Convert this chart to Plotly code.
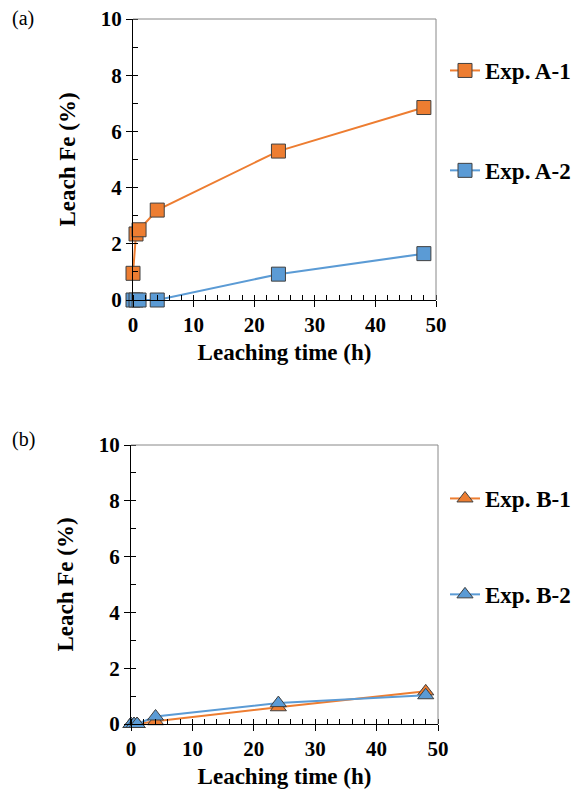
import plotly.graph_objects as go

time_h = [0, 0.5, 1, 4, 24, 48]
exp_a1 = [0.95, 2.35, 2.5, 3.2, 5.3, 6.85]
exp_a2 = [0.0, 0.0, 0.0, 0.0, 0.92, 1.65]
exp_b1 = [0.0, 0.0, 0.0, 0.1, 0.6, 1.17]
exp_b2 = [0.0, 0.0, 0.0, 0.27, 0.75, 1.03]
x_ticks = [0, 10, 20, 30, 40, 50]
y_ticks = [0, 2, 4, 6, 8, 10]

ORANGE = "#ED7D31"
BLUE = "#5B9BD5"
FONT = "Liberation Serif"
W, H = 579, 792

fig = go.Figure()

def add(y, color, symbol, name, xa, ya, legend, group):
    fig.add_trace(go.Scatter(
        x=time_h, y=y, name=name, mode="lines+markers",
        line=dict(color=color, width=2),
        marker=dict(symbol=symbol, size=14, color=color, line=dict(color="#404040", width=1)),
        xaxis=xa, yaxis=ya, legend=legend, legendgroup=group, cliponaxis=False,
    ))

add(exp_a1, ORANGE, "square", "Exp. A-1", "x", "y", "legend", "a1")
add(exp_a2, BLUE, "square", "Exp. A-2", "x", "y", "legend", "a2")
add(exp_b1, ORANGE, "triangle-up", "Exp. B-1", "x2", "y2", "legend2", "b1")
add(exp_b2, BLUE, "triangle-up", "Exp. B-2", "x2", "y2", "legend2", "b2")

tickfont = dict(family=FONT, size=21, color="black", weight="bold")
titlefont = dict(family=FONT, size=23, color="black", weight="bold")
legfont = dict(family=FONT, size=23, color="black", weight="bold")

def xaxis(domain, anchor):
    return dict(domain=domain, anchor=anchor, range=[0, 50], tickvals=x_ticks,
                showline=True, linecolor="black", linewidth=1.2, showgrid=False, zeroline=False,
                ticks="outside", ticklen=6, tickcolor="black", tickfont=tickfont,
                minor=dict(dtick=2, ticks="inside", ticklen=5, tickcolor="black"),
                automargin=False, ticklabeloverflow="allow",
                title=dict(text="Leaching time (h)", font=titlefont, standoff=7))

def yaxis(domain, anchor):
    return dict(domain=domain, anchor=anchor, range=[0, 10], tickvals=y_ticks,
                showline=True, linecolor="black", linewidth=1.2, showgrid=False, zeroline=False,
                ticks="outside", ticklen=6, tickcolor="black", tickfont=tickfont,
                minor=dict(dtick=1, ticks="inside", ticklen=5, tickcolor="black"),
                automargin=False, ticklabeloverflow="allow",
                title=dict(text="Leach Fe (%)", font=titlefont, standoff=18))

fig.update_layout(
    width=W, height=H, margin=dict(l=0, r=0, t=0, b=0, autoexpand=False),
    paper_bgcolor="white", plot_bgcolor="white",
    font=dict(family=FONT, color="black"),
    xaxis=xaxis([125 / W, 428 / W], "y"),
    yaxis=yaxis([1 - 292 / H, 1 - 11 / H], "x"),
    xaxis2=xaxis([123 / W, 430 / W], "y2"),
    yaxis2=yaxis([1 - 716 / H, 1 - 437 / H], "x2"),
    legend=dict(x=437 / W, y=1 - 41 / H, xanchor="left", yanchor="top",
                font=legfont, tracegroupgap=67,
                bgcolor="rgba(0,0,0,0)", itemwidth=30),
    legend2=dict(x=437 / W, y=1 - 469 / H, xanchor="left", yanchor="top",
                 font=legfont, tracegroupgap=63,
                 bgcolor="rgba(0,0,0,0)", itemwidth=30),
    showlegend=True,
)

for ref in ["", "2"]:
    fig.add_shape(type="line", xref=f"x{ref} domain", yref=f"y{ref} domain",
                  x0=0, x1=1, y0=1, y1=1, line=dict(color="#888888", width=1))
    fig.add_shape(type="line", xref=f"x{ref} domain", yref=f"y{ref} domain",
                  x0=1, x1=1, y0=0, y1=1, line=dict(color="#888888", width=1))

fig.add_annotation(text="(a)", x=2 / W, y=1 - 10 / H, xref="paper", yref="paper",
                   xanchor="left", yanchor="middle", showarrow=False,
                   font=dict(family=FONT, size=20, color="black"))
fig.add_annotation(text="(b)", x=2 / W, y=1 - 432 / H, xref="paper", yref="paper",
                   xanchor="left", yanchor="middle", showarrow=False,
                   font=dict(family=FONT, size=20, color="black"))

fig.write_html("out.html")
